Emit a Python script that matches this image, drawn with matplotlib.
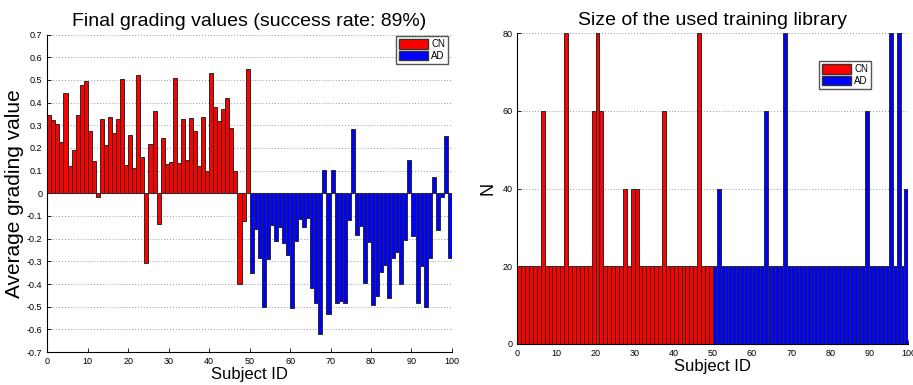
#importando as bibliotecas
import numpy as np
import matplotlib
matplotlib.use("Agg")
import matplotlib.pyplot as plt
from matplotlib.patches import Patch

#fonte parecida com Helvetica
plt.rcParams['font.family'] = ['Liberation Sans', 'DejaVu Sans']

#dados
grading_cn = [0.344, 0.324, 0.304, 0.225, 0.444, 0.119, 0.191, 0.344, 0.476, 0.496,
              0.276, 0.141, -0.014, 0.326, 0.213, 0.338, 0.265, 0.326, 0.506, 0.125,
              0.256, 0.110, 0.522, 0.162, -0.307, 0.219, 0.362, -0.136, 0.243, 0.128,
              0.138, 0.507, 0.132, 0.329, 0.147, 0.331, 0.276, 0.119, 0.335, 0.099,
              0.532, 0.379, 0.319, 0.371, 0.422, 0.287, 0.099, -0.400, -0.124, 0.547]
grading_ad = [-0.353, -0.159, -0.285, -0.500, -0.288, -0.140, -0.212, -0.150, -0.221, -0.274,
              -0.507, -0.212, -0.115, -0.147, -0.109, -0.418, -0.482, -0.622, 0.101, -0.534,
              0.101, -0.485, -0.475, -0.482, -0.119, 0.284, -0.182, -0.144, -0.394, -0.215,
              -0.491, -0.454, -0.349, -0.315, -0.462, -0.285, -0.257, -0.400, -0.207, 0.146,
              -0.187, -0.485, -0.319, -0.500, -0.284, 0.072, -0.163, -0.015, 0.251, -0.284]

library_cn = [20, 20, 20, 20, 20, 20, 60, 20, 20, 20,
              20, 20, 80, 20, 20, 20, 20, 20, 20, 60,
              80, 60, 20, 20, 20, 20, 20, 40, 20, 40,
              40, 20, 20, 20, 20, 20, 20, 60, 20, 20,
              20, 20, 20, 20, 20, 20, 80, 20, 20, 20]
library_ad = [20, 40, 20, 20, 20, 20, 20, 20, 20, 20,
              20, 20, 20, 60, 20, 20, 20, 20, 80, 20,
              20, 20, 20, 20, 20, 20, 20, 20, 20, 20,
              20, 20, 20, 20, 20, 20, 20, 20, 20, 60,
              20, 20, 20, 20, 20, 80, 20, 80, 20, 40]

groups = ["CN", "AD"]
group_colors = {"CN": "#ff0000", "AD": "#0000ff"}

n_cn = len(grading_cn)
n_ad = len(grading_ad)
x_cn = np.arange(1, n_cn + 1) - 0.5
x_ad = np.arange(n_cn + 1, n_cn + n_ad + 1) - 0.5

#figura
fig = plt.figure(figsize=(9.13, 3.85), dpi=100)
ax1 = fig.add_axes([0.0518, 0.0857, 0.4432, 0.8243])
ax2 = fig.add_axes([0.5666, 0.1065, 0.4283, 0.807])

edge = dict(edgecolor="#2a2a2a", linewidth=0.7, width=1.0)


def estilo(ax):
    for s in ["top", "right"]:
        ax.spines[s].set_visible(False)
    ax.spines["left"].set_linewidth(0.8)
    ax.spines["bottom"].set_linewidth(0.8)
    ax.tick_params(direction="in", length=3, labelsize=6.5, width=0.6)
    ax.yaxis.grid(True, linestyle=(0, (1, 2)), color="#9a9a9a", linewidth=0.7)
    ax.set_axisbelow(True)
    ax.set_xlim(0, 100)
    ax.set_xticks(np.arange(0, 101, 10))
    leg_handles = [Patch(facecolor=group_colors[g], edgecolor="#333333", label=g) for g in groups]
    return leg_handles


#grafico da esquerda
ax1.bar(x_cn, grading_cn, color=group_colors["CN"], **edge)
ax1.bar(x_ad, grading_ad, color=group_colors["AD"], **edge)
handles = estilo(ax1)
ax1.axhline(0, color="#555555", linewidth=0.8, zorder=0.5)
ax1.set_ylim(-0.7, 0.7)
yt = np.round(np.arange(-0.7, 0.71, 0.1), 1)
ax1.set_yticks(yt)
ax1.set_yticklabels(["0" if v == 0 else "%g" % v for v in yt])
ax1.set_title("Final grading values (success rate: 89%)", fontsize=14, pad=6)
ax1.set_xlabel("Subject ID", fontsize=12, labelpad=1)
ax1.set_ylabel("Average grading value", fontsize=15, labelpad=2)
ax1.legend(handles=handles, loc="upper right", bbox_to_anchor=(0.99, 0.995),
           fontsize=7, fancybox=False, edgecolor="#555555", framealpha=1,
           handlelength=3, handleheight=1.1, borderpad=0.3, labelspacing=0.2,
           handletextpad=0.3, borderaxespad=0)

#grafico da direita
ax2.bar(x_cn, library_cn, color=group_colors["CN"], **edge)
ax2.bar(x_ad, library_ad, color=group_colors["AD"], **edge)
handles = estilo(ax2)
ax2.set_ylim(0, 80)
ax2.set_yticks([0, 20, 40, 60, 80])
ax2.set_title("Size of the used training library", fontsize=14, pad=6)
ax2.set_xlabel("Subject ID", fontsize=12, labelpad=1)
ax2.set_ylabel("N", fontsize=13, labelpad=4)
ax2.legend(handles=handles, loc="upper right", bbox_to_anchor=(0.905, 0.91),
           fontsize=7, fancybox=False, edgecolor="#555555", framealpha=1,
           handlelength=3, handleheight=1.1, borderpad=0.3, labelspacing=0.2,
           handletextpad=0.3, borderaxespad=0)

#salvando
plt.savefig("out.png", dpi=100)
